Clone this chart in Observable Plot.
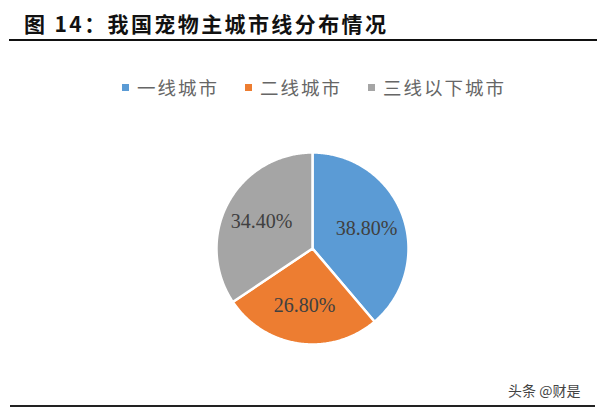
<!DOCTYPE html>
<html>
<head>
<meta charset="utf-8">
<script src="https://cdn.jsdelivr.net/npm/d3@7"></script>
<script src="https://cdn.jsdelivr.net/npm/@observablehq/plot@0.6"></script>
<style>
  html, body { margin: 0; padding: 0; background: #fff; }
  #wrap { position: relative; width: 600px; height: 410px; overflow: hidden; font-family: "Noto Sans CJK SC", "Noto Sans", sans-serif; }
  #title { position: absolute; left: 24px; top: 8px; font-size: 21px; font-weight: 700; letter-spacing: 2.4px; color: #111; white-space: nowrap; }
  #topline { position: absolute; left: 9px; top: 39px; width: 588px; height: 2px; background: #111; }
  #legend { position: absolute; left: 0; top: 74px; width: 628px; display: flex; justify-content: center; align-items: center; font-size: 18.5px; letter-spacing: 2px; color: #666; white-space: nowrap; }
  .item { display: flex; align-items: center; margin: 0 13px; }
  .sw { width: 7px; height: 7px; margin-right: 8px; }
  #chart { position: absolute; left: 0; top: 110px; }
  #botline { position: absolute; left: 10px; top: 405px; width: 585px; height: 2px; background: #222; }
  #wm { position: absolute; left: 508px; top: 380px; font-size: 14px; color: #444; white-space: nowrap; }
</style>
</head>
<body>
<div id="wrap">
  <div id="title">图 14：我国宠物主城市线分布情况</div>
  <div id="topline"></div>
  <div id="legend"></div>
  <div id="chart"></div>
  <div id="botline"></div>
  <div id="wm">头条 @财是</div>
</div>
<script>
const categories = ["一线城市", "二线城市", "三线以下城市"];
const values = [38.8, 26.8, 34.4];
const labels = ["38.80%", "26.80%", "34.40%"];
const colors = ["#5B9BD5", "#ED7D31", "#A5A5A5"];

// legend
const legend = document.getElementById("legend");
categories.forEach((c, i) => {
  const it = document.createElement("div");
  it.className = "item";
  const sw = document.createElement("div");
  sw.className = "sw";
  sw.style.background = colors[i];
  const tx = document.createElement("span");
  tx.textContent = c;
  it.appendChild(sw);
  it.appendChild(tx);
  legend.appendChild(it);
});

const rows = categories.map((c, i) => ({ key: c, value: values[i], label: labels[i], color: colors[i] }));
const arcs = d3.pie().sort(null).value(d => d.value)(rows);

// polygon points for each slice (angles from d3.pie, clockwise from top)
const pts = [];
arcs.forEach(a => {
  pts.push({ key: a.data.key, color: a.data.color, x: 0, y: 0 });
  const n = Math.max(2, Math.ceil((a.endAngle - a.startAngle) / 0.01));
  for (let k = 0; k <= n; k++) {
    const t = a.startAngle + (a.endAngle - a.startAngle) * k / n;
    pts.push({ key: a.data.key, color: a.data.color, x: Math.sin(t), y: Math.cos(t) });
  }
});
const labelR = 0.6;
const labPts = arcs.map(a => {
  const m = (a.startAngle + a.endAngle) / 2;
  return { label: a.data.label, x: labelR * Math.sin(m), y: labelR * Math.cos(m) };
});

const plot = Plot.plot({
  width: 600,
  height: 280,
  marginLeft: 216,
  marginRight: 192,
  marginTop: 42,
  marginBottom: 46,
  x: { domain: [-1, 1], axis: null },
  y: { domain: [-1, 1], axis: null },
  style: { background: "transparent" },
  marks: [
    Plot.line(pts, { x: "x", y: "y", z: "key", fill: "color", stroke: "white", strokeWidth: 2.5, curve: "linear-closed", strokeLinejoin: "round" }),
    Plot.text(labPts, { x: "x", y: "y", text: "label", fontSize: 20, fill: "#404040", fontFamily: "Liberation Serif, Times New Roman, serif" })
  ]
});
document.getElementById("chart").appendChild(plot);
</script>
</body>
</html>
